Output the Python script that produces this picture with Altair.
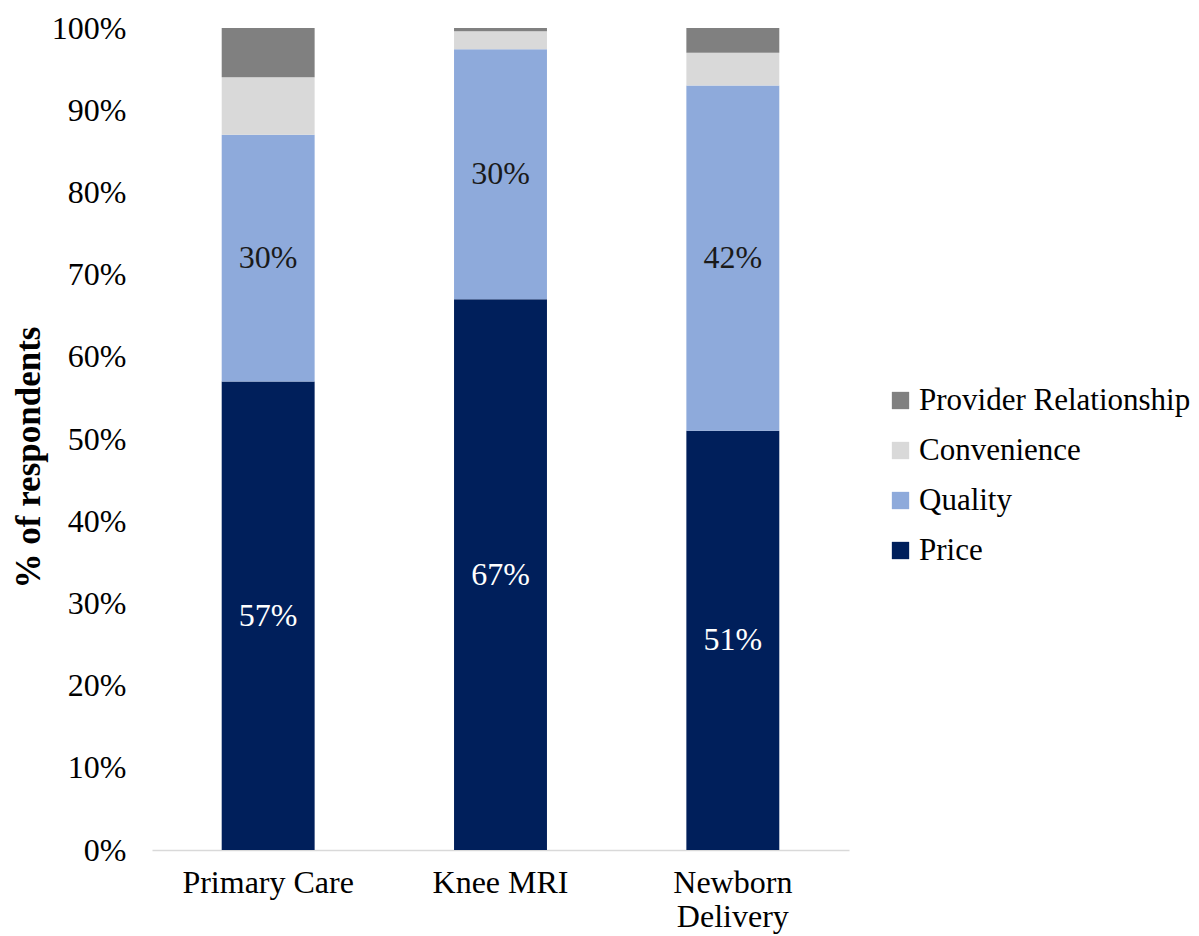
import altair as alt
import pandas as pd

services = ["Primary Care", "Knee MRI", "Newborn Delivery"]
factors = ["Price", "Quality", "Convenience", "Provider Relationship"]
price = [57, 67, 51]
quality = [30, 30.4, 42]
convenience = [7, 2.2, 4]
provider = [6, 0.4, 3]
price_labels = ["57%", "67%", "51%"]
quality_labels = ["30%", "30%", "42%"]

colors = {"Price": "#001f5b", "Quality": "#8eaadb",
          "Convenience": "#d9d9d9", "Provider Relationship": "#808080"}

rows = []
series = {"Price": price, "Quality": quality, "Convenience": convenience,
          "Provider Relationship": provider}
labels = {"Price": price_labels, "Quality": quality_labels}
for i, s in enumerate(services):
    for k, f in enumerate(factors):
        rows.append({"service": s, "factor": f, "value": series[f][i], "ord": k,
                     "label": labels.get(f, [""] * 3)[i]})
df = pd.DataFrame(rows)

legend_order = ["Provider Relationship", "Convenience", "Quality", "Price"]
FONT = "Liberation Serif"
FS = 32

base = alt.Chart(df)

x = alt.X("service:N", sort=services, title=None,
          scale=alt.Scale(paddingInner=0.6, paddingOuter=0.3),
          axis=alt.Axis(labelAngle=0, labelFontSize=FS, labelFont=FONT,
                        labelColor="#000000", ticks=False, domainColor="#d9d9d9",
                        domainWidth=1.5, labelPadding=17, labelLineHeight=34,
                        labelLimit=0,
                        labelExpr="datum.label == 'Newborn Delivery' ? ['Newborn', 'Delivery'] : datum.label"))

bars = base.mark_bar().encode(
    x=x,
    y=alt.Y("value:Q", stack="zero", scale=alt.Scale(domain=[0, 100]),
            title="% of respondents",
            axis=alt.Axis(values=list(range(0, 101, 10)), labelExpr="datum.value + '%'",
                          labelFontSize=FS, labelFont=FONT, labelColor="#000000",
                          grid=False, domain=False, ticks=False, labelPadding=26,
                          titleFont=FONT, titleFontSize=35, titleFontWeight="bold",
                          titleColor="#000000", titlePadding=5, titleY=429)),
    color=alt.Color("factor:N",
                    scale=alt.Scale(domain=legend_order,
                                    range=[colors[f] for f in legend_order]),
                    legend=alt.Legend(title=None, orient="none", legendX=733, legendY=357,
                                      symbolType="square", symbolSize=300,
                                      labelFont=FONT, labelFontSize=31,
                                      labelColor="#000000", rowPadding=18,
                                      symbolStrokeWidth=0, labelOffset=3,
                                      labelLimit=0)),
    order=alt.Order("ord:Q", sort="ascending"),
)

texts = base.transform_stack(
    stack="value", groupby=["service"], as_=["y0", "y1"],
    sort=[alt.SortField("ord", order="ascending")]
).transform_calculate(
    mid="(datum.y0 + datum.y1) / 2"
).transform_filter(
    "datum.label != ''"
).mark_text(font=FONT, fontSize=FS).encode(
    x=alt.X("service:N", sort=services),
    y=alt.Y("mid:Q"),
    text="label:N",
    color=alt.condition("datum.factor == 'Price'", alt.value("#ffffff"), alt.value("#1a1a1a")),
)

chart = alt.layer(bars, texts).properties(
    width=697, height=822,
    autosize=alt.AutoSizeParams(type="none"),
    padding={"left": 144, "top": 20, "right": 342, "bottom": 86},
).configure_view(stroke=None)

chart.save("out.html", embed_options={"renderer": "svg", "actions": False})
